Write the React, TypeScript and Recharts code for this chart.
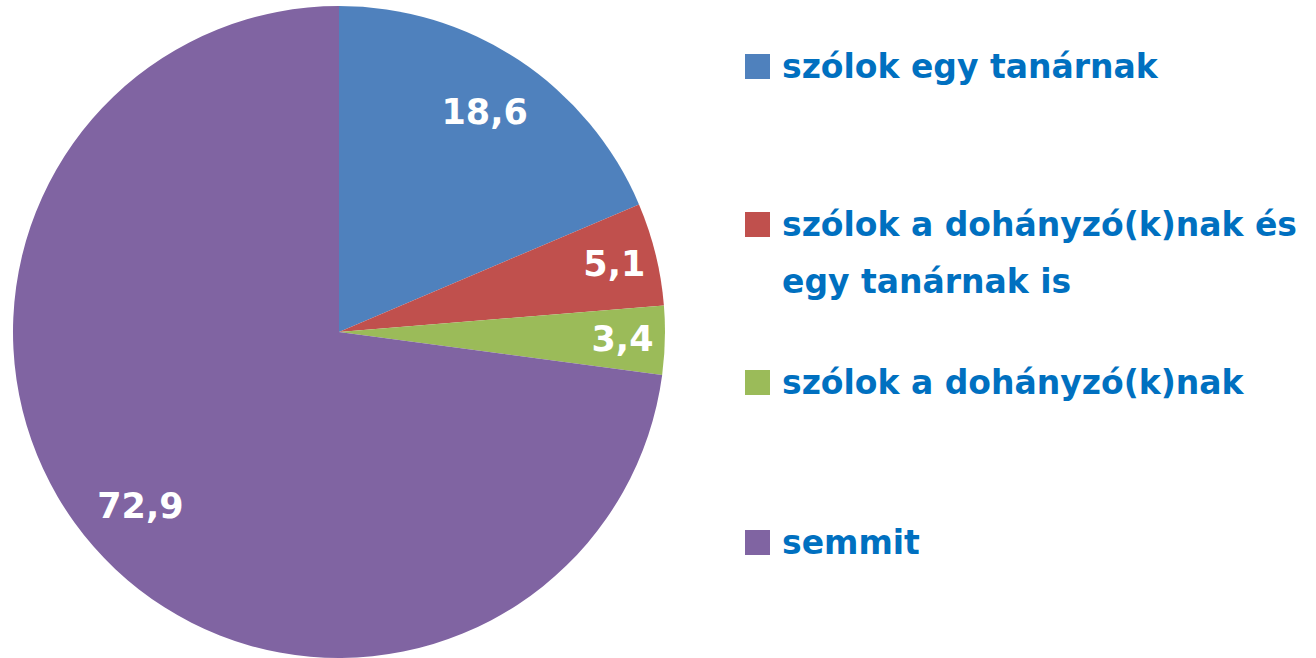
import { Cell, Legend, Pie, PieChart } from "recharts";

const categories = [
  "szólok egy tanárnak",
  "szólok a dohányzó(k)nak és egy tanárnak is",
  "szólok a dohányzó(k)nak",
  "semmit",
];
const values = [18.6, 5.1, 3.4, 72.9];
const colors = ["#4F81BD", "#C0504D", "#9BBB59", "#8064A2"];

const data = categories.map((name, i) => ({ name, value: values[i] }));

const RAD = Math.PI / 180;
const FONT = "'DejaVu Sans', sans-serif";

const renderLabel = (props: any) => {
  const { cx, cy, midAngle, outerRadius, percent, value } = props;
  const r = outerRadius * (percent < 0.1 ? 0.87 : 0.81);
  const x = cx + r * Math.cos(-midAngle * RAD);
  const y = cy + r * Math.sin(-midAngle * RAD);
  return (
    <text
      x={x}
      y={y}
      fill="#fff"
      textAnchor="middle"
      dominantBaseline="central"
      fontFamily={FONT}
      fontWeight="bold"
      fontSize={35}
    >
      {String(value).replace(".", ",")}
    </text>
  );
};

// item tops, tuned to the reference
const legendTops = [38, 196, 354, 514];

// legend keeps the data order (the default payload comes sorted by name)
const renderLegend = () => (
  <div style={{ position: "relative", width: 571, height: 658 }}>
    {categories.map((name, i) => (
      <div
        key={name}
        style={{
          position: "absolute",
          top: legendTops[i],
          left: 0,
          display: "flex",
          alignItems: "flex-start",
        }}
      >
        <div
          style={{
            width: 25,
            height: 25,
            marginTop: 16,
            background: colors[i],
            flexShrink: 0,
          }}
        />
        <div
          style={{
            marginLeft: 12,
            width: 534,
            color: "#0070C0",
            fontFamily: FONT,
            fontWeight: "bold",
            fontSize: 33,
            lineHeight: "57px",
            textAlign: "left",
          }}
        >
          {name}
        </div>
      </div>
    ))}
  </div>
);

export default function App() {
  return (
    <div style={{ position: "absolute", left: 0, top: 0, background: "#fff" }}>
      <PieChart
        width={1316}
        height={658}
        margin={{ top: 0, right: 0, bottom: 0, left: 0 }}
      >
        <Pie
          data={data}
          dataKey="value"
          nameKey="name"
          cx={339}
          cy={332}
          outerRadius={326}
          startAngle={90}
          endAngle={-270}
          label={renderLabel}
          labelLine={false}
          stroke="none"
          isAnimationActive={false}
        >
          {data.map((d, i) => (
            <Cell key={d.name} fill={colors[i]} />
          ))}
        </Pie>
        <Legend
          layout="vertical"
          align="right"
          verticalAlign="top"
          content={renderLegend}
          wrapperStyle={{ left: 745, top: 0, width: 571, height: 658 }}
        />
      </PieChart>
    </div>
  );
}
